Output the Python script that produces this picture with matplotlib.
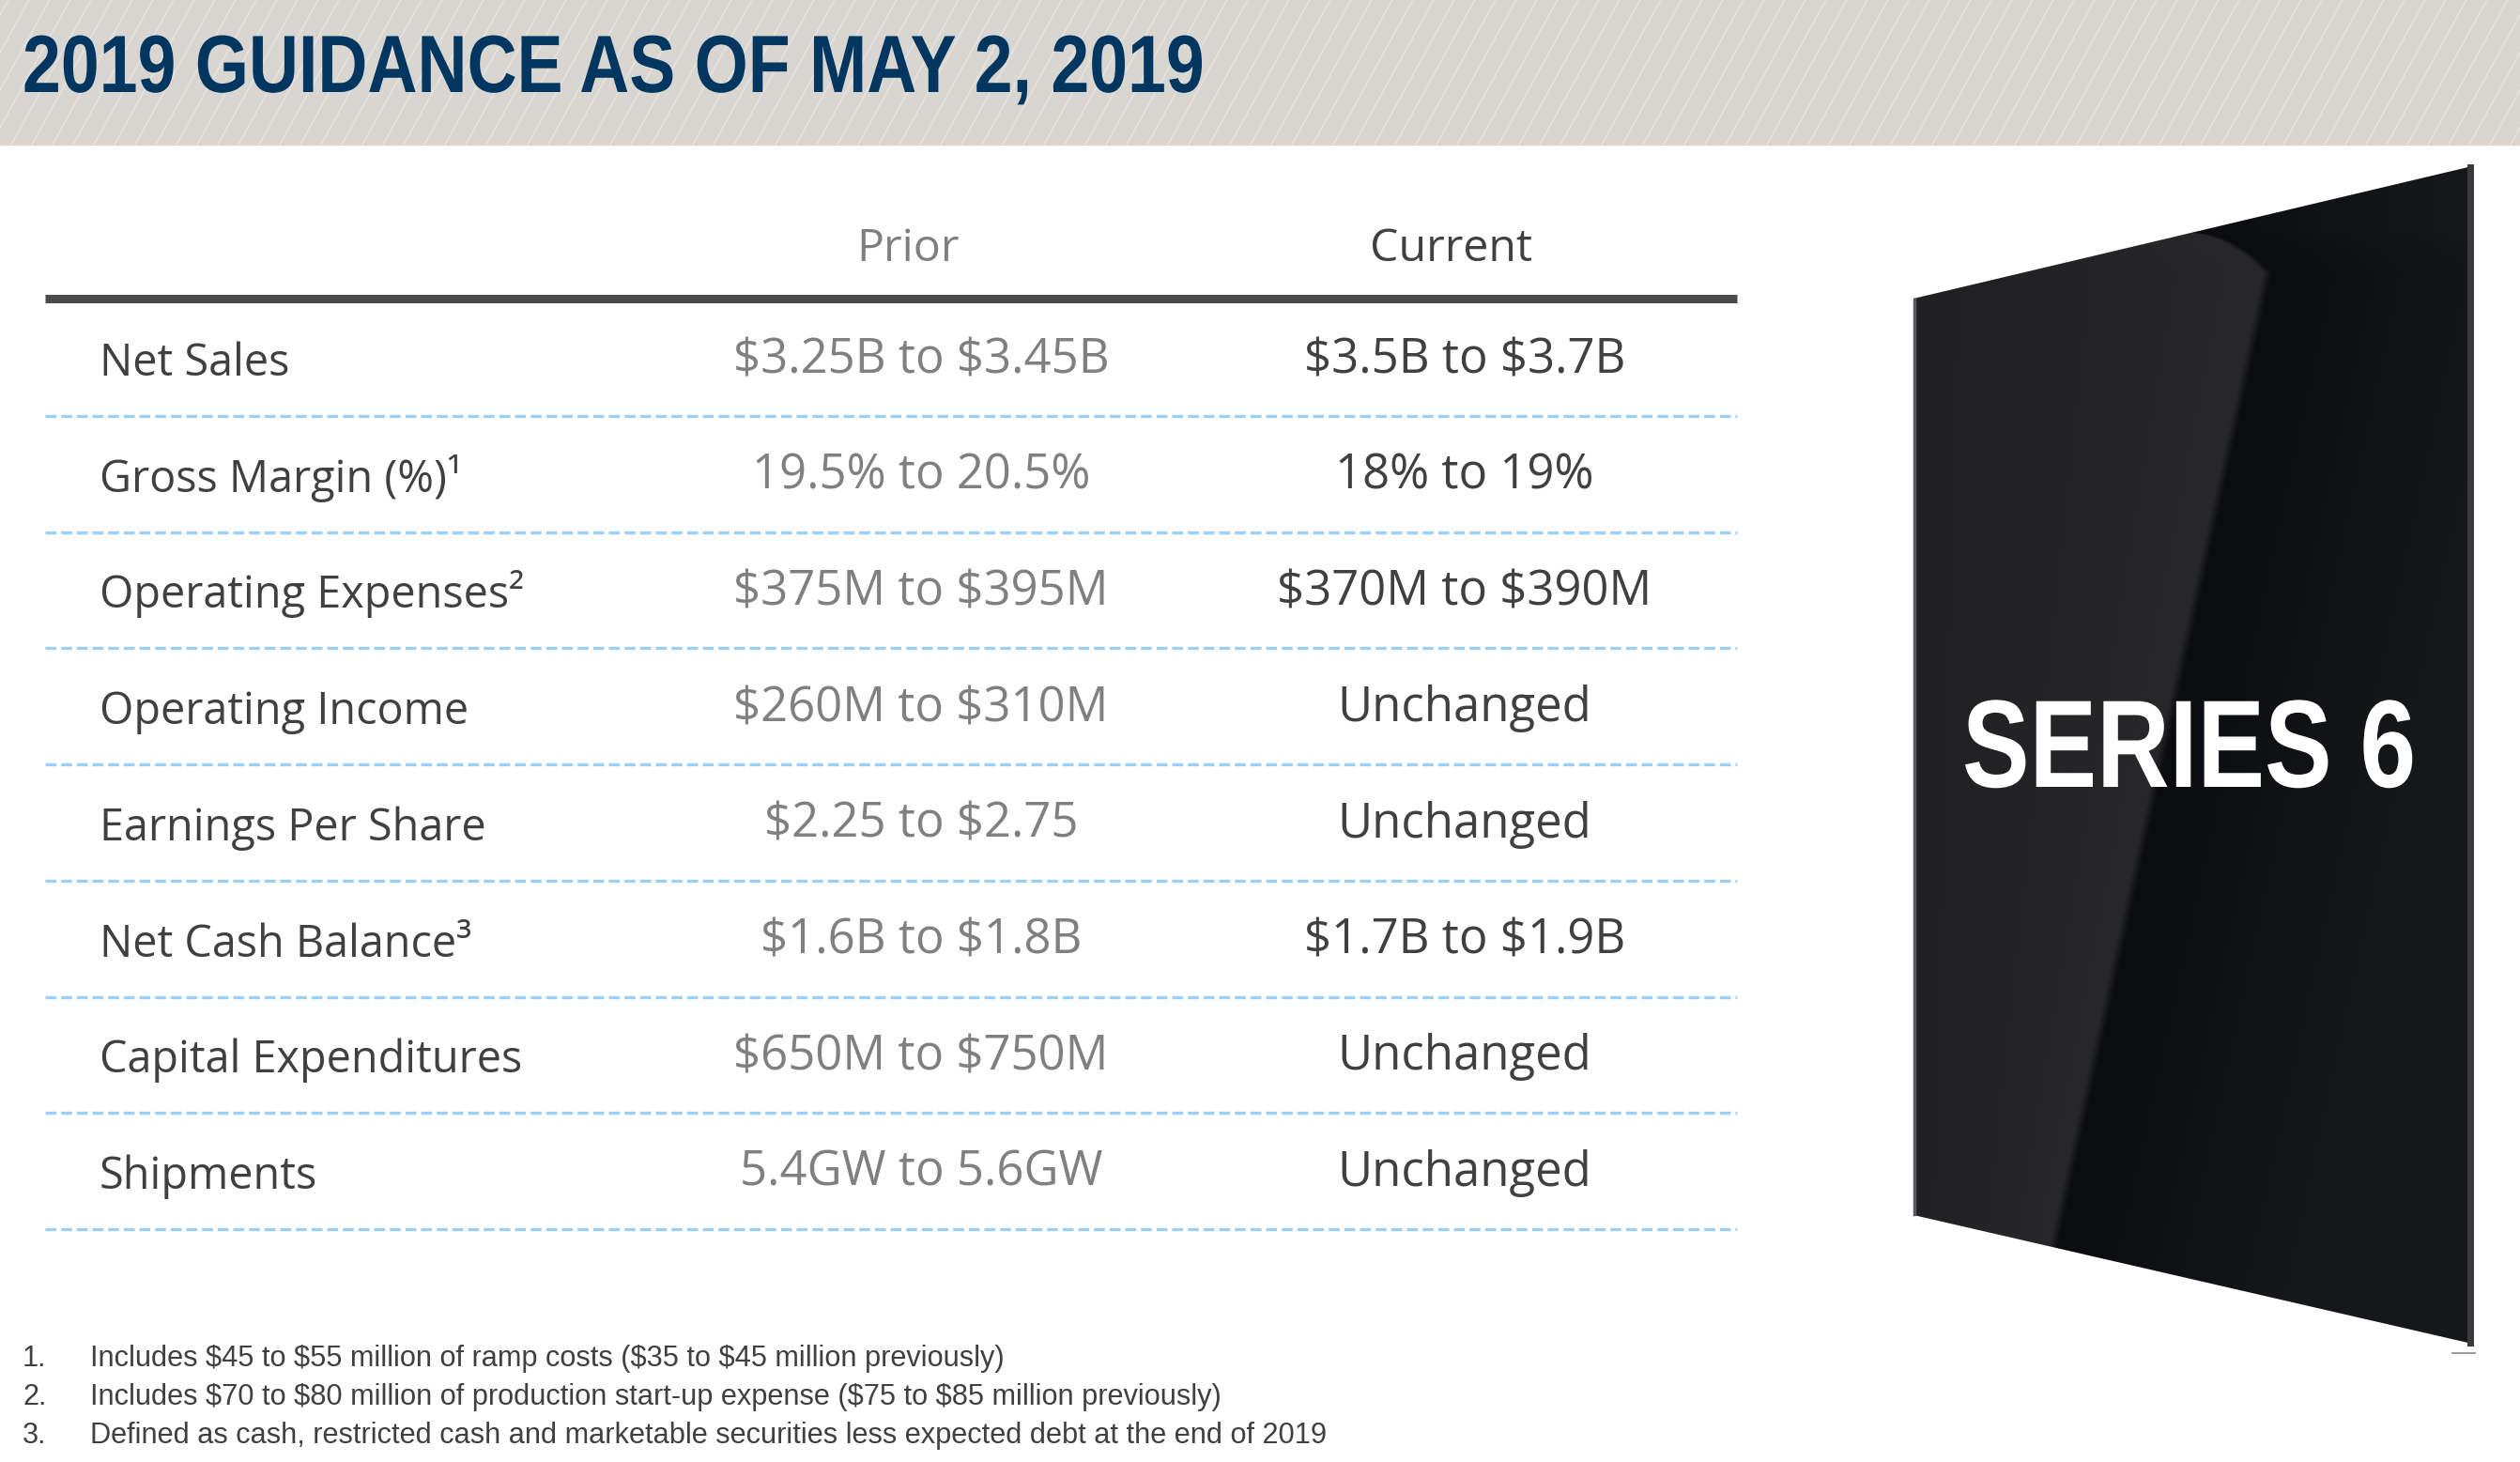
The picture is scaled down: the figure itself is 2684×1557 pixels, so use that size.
import numpy as np
import matplotlib
matplotlib.use('Agg')
import matplotlib.pyplot as plt
from matplotlib import font_manager as fm
from matplotlib import patheffects
from matplotlib.colors import to_rgb
from matplotlib.transforms import Affine2D
from matplotlib.patches import Rectangle, Polygon
from matplotlib.collections import LineCollection

# table content
title = '2019 GUIDANCE AS OF MAY 2, 2019'
col_heads = ['Prior', 'Current']
row_labels = ['Net Sales', 'Gross Margin (%)\u00b9', 'Operating Expenses\u00b2',
              'Operating Income', 'Earnings Per Share', 'Net Cash Balance\u00b3',
              'Capital Expenditures', 'Shipments']
prior = ['$3.25B to $3.45B', '19.5% to 20.5%', '$375M to $395M', '$260M to $310M',
         '$2.25 to $2.75', '$1.6B to $1.8B', '$650M to $750M', '5.4GW to 5.6GW']
current = ['$3.5B to $3.7B', '18% to 19%', '$370M to $390M', 'Unchanged',
           'Unchanged', '$1.7B to $1.9B', 'Unchanged', 'Unchanged']
notes = ['Includes $45 to $55 million of ramp costs ($35 to $45 million previously)',
         'Includes $70 to $80 million of production start-up expense ($75 to $85 million previously)',
         'Defined as cash, restricted cash and marketable securities less expected debt at the end of 2019']
panel_text = 'SERIES 6'

names = {f.name for f in fm.fontManager.ttflist}
def pick(*cands):
    for c in cands:
        if c in names:
            return c
    return 'DejaVu Sans'

body = pick('Open Sans', 'Noto Sans', 'Lato', 'DejaVu Sans')
small = pick('Liberation Sans', 'DejaVu Sans')
head = pick('Liberation Sans', 'Roboto', 'DejaVu Sans')


class HScale(patheffects.AbstractPathEffect):
    # squeeze glyphs horizontally around x0 (display px) to fake a condensed face
    def __init__(self, sx, x0):
        super().__init__()
        self.sx, self.x0 = sx, x0

    def draw_path(self, renderer, gc, tpath, affine, rgbFace=None):
        a = affine + Affine2D().translate(-self.x0, 0).scale(self.sx, 1).translate(self.x0, 0)
        renderer.draw_path(gc, tpath, a, rgbFace)


W, H = 2684, 1557
fig = plt.figure(figsize=(W / 100, H / 100), dpi=100)
ax = fig.add_axes([0, 0, 1, 1])
ax.set_xlim(0, W)
ax.set_ylim(H, 0)
ax.axis('off')
r = fig.canvas.get_renderer()

def fit(t, width):
    bb = t.get_window_extent(renderer=r)
    t.set_fontsize(t.get_fontsize() * width / bb.width)

def condensed(t, x, cap_px, width):
    # size from cap height, then squeeze to the wanted width
    t.set_fontsize(cap_px / 0.716 * 0.72)
    bb = t.get_window_extent(renderer=r)
    t.set_path_effects([HScale(width / bb.width, x)])

# header band with thin diagonal stripes
band_h = 154
ax.add_patch(Rectangle((0, 0), W, band_h, color='#d9d5d0', zorder=0))
segs = [[(x0, band_h), (x0 + 0.55 * band_h, 0)] for x0 in range(-120, W + 20, 22)]
lc = LineCollection(segs, colors='#e7e4e0', linewidths=1.1, zorder=1)
lc.set_clip_path(Rectangle((0, 0), W, band_h, transform=ax.transData))
ax.add_collection(lc)

t = ax.text(24, 98, title, family=head, weight='bold', color='#00365f',
            fontsize=60, va='baseline', ha='left')
condensed(t, 24, 62, 1259)

# column headers
col_x = [967, 1545]
head_col = ['#7f7f7f', '#404040']
hs = []
for x, h, c in zip(col_x, col_heads, head_col):
    hs.append(ax.text(x, 278, h, family=body, color=c, fontsize=30, ha='center', va='baseline'))
fit(hs[1], 173)
hs[0].set_fontsize(hs[1].get_fontsize())

ax.plot([48, 1850], [318, 318], color='#4a4a4a', lw=6.5, solid_capstyle='butt')

# rows
y0, step = 383, 123.7
lab_t, pri_t, cur_t = [], [], []
for i in range(len(row_labels)):
    yc = y0 + i * step
    lab_t.append(ax.text(106, yc + 17, row_labels[i], family=body, color='#404040',
                         fontsize=30, ha='left', va='baseline', parse_math=False))
    pri_t.append(ax.text(981, yc + 14, prior[i], family=body, color='#808080',
                         fontsize=30, ha='center', va='baseline', parse_math=False))
    cur_t.append(ax.text(1560, yc + 14, current[i], family=body, color='#404040',
                         fontsize=30, ha='center', va='baseline', parse_math=False))
    ax.plot([48, 1850], [yc + 60, yc + 60], color='#9dd0f8', lw=2.4,
            dashes=(3.5, 1.5), solid_capstyle='butt')

fit(lab_t[6], 450)
fit(pri_t[0], 400)
for t in lab_t:
    t.set_fontsize(lab_t[6].get_fontsize())
for t in pri_t + cur_t:
    t.set_fontsize(pri_t[0].get_fontsize())

# footnotes
fn, nums = [], []
for i, n in enumerate(notes):
    y = 1455 + i * 41
    nums.append(ax.text(24, y, '%d.' % (i + 1), family=small, color='#404040',
                        fontsize=20, ha='left', va='baseline'))
    fn.append(ax.text(96, y, n, family=small, color='#404040', fontsize=20,
                      ha='left', va='baseline', parse_math=False))
fit(fn[2], 1315)
for t in fn + nums:
    t.set_fontsize(fn[2].get_fontsize())

# panel picture on the right: glossy black module with a soft reflection
tl, tr, br, bl = (2038, 318), (2633, 177), (2633, 1431), (2038, 1294)
x0b, x1b, y0b, y1b = 2036, 2638, 175, 1434
X, Y = np.meshgrid(np.arange(x0b, x1b) + 0.5, np.arange(y0b, y1b) + 0.5)
bx = 2415 - 228 * (Y - 290) / 1038
top = Y < 290
bx[top] = 2332 + 83 * np.sqrt(np.clip((Y[top] - 248) / 42, 0, 1))
tt = np.clip((X - bx + 5) / 10, 0, 1)[..., None]
fl = np.clip((X - 2038) / np.maximum(bx - 2038, 1), 0, 1)[..., None]
fr = np.clip((X - bx) / 260, 0, 1)[..., None]
c_l0, c_l1 = np.array(to_rgb('#202022')), np.array(to_rgb('#28282b'))
c_r0, c_r1 = np.array(to_rgb('#0b0c0f')), np.array(to_rgb('#16171a'))
left = c_l0 + (c_l1 - c_l0) * fl
right = c_r0 + (c_r1 - c_r0) * fr
img = left * (1 - tt) + right * tt
panel = Polygon([tl, tr, br, bl], closed=True, transform=ax.transData)
im = ax.imshow(img, extent=(x0b, x1b, y1b, y0b), origin='upper', aspect='auto',
               interpolation='bilinear', zorder=2)
im.set_clip_path(panel)
ax.plot([2039, 2039], [319, 1293], color='#5a5a5a', lw=2.5, zorder=4)
ax.plot([2631, 2631], [178, 1430], color='#3a3a3c', lw=5, zorder=4)
ax.plot([2612, 2636], [1441, 1441], color='#8a8a8a', lw=1.2, zorder=4)

st = ax.text(2090, 838, panel_text, family=head, weight='bold', color='white',
             fontsize=70, ha='left', va='baseline', zorder=5)
condensed(st, 2090, 95, 483)

ax.set_xlim(0, W)
ax.set_ylim(H, 0)
fig.savefig('out.png', dpi=100, facecolor='white')
